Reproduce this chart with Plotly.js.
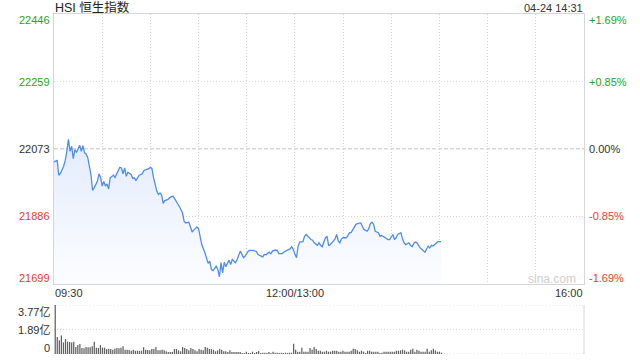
<!DOCTYPE html>
<html><head><meta charset="utf-8">
<script src="https://cdn.plot.ly/plotly-3.0.1.min.js"></script>
<style>html,body{margin:0;padding:0;background:#fff}#chart{width:640px;height:360px}</style>
</head><body><div id="chart"></div>
<script>
// trading minutes since 09:30 (morning 0-150, afternoon 13:00 = 150 onward)
const tradeMinute = [0,2,3,4,6,7,8,9,10,11,12,13,14,16,17,18,19,20,21,22,23,24,25,27,28,29,30,31,32,33,34,35,37,38,39,40,41,42,43,44,45,46,48,49,50,51,52,53,55,56,57,59,60,61,62,64,65,66,67,68,69,71,72,74,75,76,77,78,80,81,82,84,85,86,87,89,90,91,92,94,95,96,97,98,99,101,102,103,104,105,106,107,109,110,111,112,113,114,116,117,118,119,121,122,124,126,127,128,130,131,132,134,135,136,138,139,140,142,143,145,147,148,149,150,151,152,153,155,156,157,158,160,161,162,164,165,166,167,169,170,171,172,173,175,176,177,178,179,180,182,183,184,185,187,188,189,191,192,193,195,196,197,198,199,200,202,203,204,205,207,208,209,211,212,213,214,216,217,218,219,221,222,223,224,225,226,227,228,229,231,232,233,234,235,236,238,239,240,241];
const price = [22037,22041,22000,22005,22025,22041,22066,22099,22066,22080,22046,22071,22063,22083,22066,22082,22062,22059,22049,22020,22002,21958,21965,21983,22004,21994,21970,21983,21970,21976,21962,21993,22000,21994,22004,22013,22022,22020,22004,22020,21997,22008,22002,21991,21993,21985,21993,22000,22004,22013,22015,22018,22022,22018,21993,21956,21947,21951,21945,21922,21930,21933,21938,21942,21936,21926,21921,21914,21896,21873,21868,21870,21855,21843,21848,21857,21852,21831,21808,21785,21767,21756,21762,21739,21736,21748,21739,21719,21758,21730,21759,21747,21765,21753,21767,21762,21758,21767,21790,21781,21772,21776,21790,21792,21792,21789,21781,21778,21774,21781,21780,21787,21783,21790,21793,21792,21783,21783,21787,21792,21796,21802,21795,21781,21772,21804,21815,21816,21831,21836,21831,21822,21820,21813,21806,21813,21806,21802,21827,21830,21806,21808,21813,21824,21836,21818,21813,21824,21827,21827,21833,21841,21841,21855,21864,21866,21868,21859,21850,21845,21852,21866,21870,21864,21845,21841,21831,21833,21830,21824,21822,21822,21836,21822,21827,21836,21841,21824,21813,21808,21813,21806,21802,21811,21815,21813,21804,21799,21795,21787,21796,21804,21799,21806,21804,21813,21816,21816,21816];
// volume bars (亿)
const volume = [3.77,
1.31,1.05,1.43,0.89,1.15,0.95,0.92,0.89,0.95,0.54,0.69,0.77,0.46,0.44,0.54,0.52,0.52,0.59,0.95,0.49,0.46,0.69,0.49,0.49,0.38,0.41,0.38,0.33,0.41,0.46,0.44,0.49,0.59,0.33,0.33,0.31,0.25,0.33,0.25,0.25,0.25,0.25,0.52,0.33,0.31,
0.28,0.38,0.38,0.54,0.28,0.28,0.33,0.28,0.21,0.15,0.15,0.15,0.38,0.38,0.28,0.21,0.54,0.46,0.38,0.28,0.46,0.38,0.28,0.21,0.38,0.33,0.28,0.54,0.49,0.38,0.38,0.33,0.21,0.28,0.38,0.33,0.21,0.21,0.15,0.28,0.15,0.15,0.15,0.15,0.15,
0.08,0.08,0.18,0.08,0.08,0.18,0.08,0.15,0.23,0.08,0.1,0.1,0.08,0.15,0.08,0.18,0.1,0.1,0.08,0.1,0.08,0.1,0.08,0.1,0.1,0.79,0.33,0.18,0.18,0.49,0.18,0.18,0.18,0.46,0.33,0.54,0.38,0.25,0.25,0.18,0.18,0.25,0.18,0.18,0.25,0.25,0.25,
0.18,0.18,0.25,0.18,0.18,0.18,0.25,0.41,0.38,0.28,0.18,0.25,0.18,0.08,0.25,0.25,0.18,0.18,0.18,0.18,0.08,0.1,0.18,0.18,0.18,0.18,0.18,0.18,0.25,0.25,0.28,0.33,0.28,0.18,0.18,0.33,0.41,0.18,0.33,0.25,0.18,0.18,0.18,0.41,0.18,0.28,0.41,0.28,0.18,0.18,0.1];
const prevClose = 22073;
const priceTicks = [22446, 22259, 22073, 21886, 21699];
const pctTickText = ['+1.69%', '+0.85%', '0.00%', '-0.85%', '-1.69%'];
const volTicks = [3.77, 1.885, 0];
const volTickText = ['3.77亿', '1.89亿', '0'];
const timeTickMinutes = [0, 150, 330];
const timeTickText = ['09:30', '12:00/13:00', '16:00'];
const titleText = 'HSI 恒生指数';
const stampText = '04-24 14:31';

const W = 640, H = 360;
const FONT = 'Liberation Sans, Arial, Noto Sans CJK SC, sans-serif';
const GREEN = '#22a722', RED = '#f0392c', DARK = '#333333', GRID = '#d6d6d6';
const DOTS = '1px,2px';
const px = v => v / W, py = v => (H - v) / H;

const gridMinutes = [];
for (let m = 30; m < 330; m += 30) gridMinutes.push(m);

const volIdx = volume.map((_, i) => i);

const traces = [
  {
    x: tradeMinute, y: price, type: 'scatter', mode: 'lines',
    line: {color: '#4f8cf4', width: 1.3},
    fill: 'tozeroy',
    fillgradient: {type: 'vertical', start: 22110, stop: 21699,
      colorscale: [[0, 'rgb(226,235,252)'], [1, 'rgb(252,253,255)']]},
    xaxis: 'x', yaxis: 'y', hoverinfo: 'skip'
  },
  {
    x: volIdx, y: volume, type: 'bar', width: 0.6,
    marker: {color: '#5f5f5f', line: {width: 0}},
    xaxis: 'x2', yaxis: 'y2', hoverinfo: 'skip'
  }
];

function colorFor(i) { return i < 2 ? GREEN : (i === 2 ? DARK : RED); }
const ann = [];
priceTicks.forEach((v, i) => {
  const shift = i === 0 ? -6 : (i === priceTicks.length - 1 ? 6 : 0);
  ann.push({xref: 'paper', x: px(51), xanchor: 'right', yref: 'y', y: v, yanchor: 'middle', yshift: shift,
    text: String(v), showarrow: false, borderpad: 0, font: {family: FONT, size: 11, color: colorFor(i)}});
  ann.push({xref: 'paper', x: px(588), xanchor: 'left', yref: 'y', y: v, yanchor: 'middle', yshift: shift,
    text: pctTickText[i], showarrow: false, borderpad: 0, font: {family: FONT, size: 11, color: colorFor(i)}});
});
volTicks.forEach((v, i) => {
  const shift = i === 0 ? -6.5 : (i === volTicks.length - 1 ? 6 : 0);
  ann.push({xref: 'paper', x: px(51), xanchor: 'right', yref: 'y2', y: v, yanchor: 'middle', yshift: shift,
    text: volTickText[i], showarrow: false, borderpad: 0, font: {family: FONT, size: 11, color: DARK}});
});
timeTickMinutes.forEach((m, i) => {
  ann.push({xref: 'x', x: m, xanchor: i === 0 ? 'left' : (i === timeTickMinutes.length - 1 ? 'right' : 'center'),
    yref: 'paper', y: py(293), yanchor: 'middle', text: timeTickText[i], showarrow: false, borderpad: 0,
    font: {family: FONT, size: 11, color: DARK}});
});
ann.push({xref: 'paper', x: px(54), xanchor: 'left', yref: 'paper', y: py(7.5), yanchor: 'middle',
  text: titleText, showarrow: false, borderpad: 0, font: {family: FONT, size: 12.5, color: '#222'}});
ann.push({xref: 'paper', x: px(584), xanchor: 'right', yref: 'paper', y: py(7.5), yanchor: 'middle',
  text: stampText, showarrow: false, borderpad: 0, font: {family: FONT, size: 11, color: DARK}});
ann.push({xref: 'paper', x: px(552), xanchor: 'center', yref: 'paper', y: py(279), yanchor: 'middle',
  text: 'sina.com', showarrow: false, borderpad: 0, font: {family: FONT, size: 12, color: '#cfcfcf'}});

const shapes = [
  {type: 'line', xref: 'x domain', x0: 0, x1: 1, yref: 'y', y0: prevClose, y1: prevClose,
   line: {color: '#c4c4c4', width: 1, dash: '4px,2px'}, layer: 'below'},
  {type: 'line', xref: 'x2 domain', x0: 0, x1: 1, yref: 'y2', y0: volTicks[0], y1: volTicks[0],
   line: {color: GRID, width: 1, dash: DOTS}, layer: 'below'},
  {type: 'line', xref: 'x2 domain', x0: 0, x1: 1, yref: 'y2', y0: volTicks[1], y1: volTicks[1],
   line: {color: GRID, width: 1, dash: DOTS}, layer: 'below'},
  {type: 'line', xref: 'x2 domain', x0: 0, x1: 1, yref: 'y2', y0: volTicks[2], y1: volTicks[2],
   line: {color: GRID, width: 1, dash: DOTS}, layer: 'below'},
  {type: 'line', xref: 'x2 domain', x0: 1, x1: 1, yref: 'y2', y0: volTicks[2], y1: volTicks[0],
   line: {color: GRID, width: 1}, layer: 'below'}
];

const volSpacingPx = 2.055;
const layout = {
  width: W, height: H, margin: {l: 0, r: 0, t: 0, b: 0},
  paper_bgcolor: '#fff', plot_bgcolor: '#fff', showlegend: false,
  xaxis: {domain: [px(54), px(584)], range: [0, 330], tickvals: gridMinutes, showticklabels: false,
    showgrid: true, griddash: DOTS, gridcolor: GRID, gridwidth: 1, zeroline: false,
    showline: true, mirror: true, linecolor: GRID, linewidth: 1, ticks: '', anchor: 'y', fixedrange: true},
  yaxis: {domain: [76 / H, 346 / H], range: [priceTicks[priceTicks.length - 1], priceTicks[0]],
    tickvals: [priceTicks[1], priceTicks[3]], showticklabels: false,
    showgrid: true, griddash: DOTS, gridcolor: GRID, gridwidth: 1, zeroline: false,
    showline: true, mirror: true, linecolor: GRID, linewidth: 1, ticks: '', anchor: 'x', fixedrange: true},
  xaxis2: {domain: [px(54), px(584)], range: [-0.6, -0.6 + 530 / volSpacingPx], showticklabels: false,
    showgrid: false, zeroline: false, showline: false, ticks: '', anchor: 'y2', fixedrange: true},
  yaxis2: {domain: [6 / H, 55 / H], range: [0, volTicks[0]], showticklabels: false,
    showgrid: false, zeroline: false, showline: false, ticks: '', anchor: 'x2', fixedrange: true},
  bargap: 0.4,
  annotations: ann, shapes: shapes, hovermode: false
};

Plotly.newPlot('chart', traces, layout, {staticPlot: true, displayModeBar: false});
</script></body></html>
